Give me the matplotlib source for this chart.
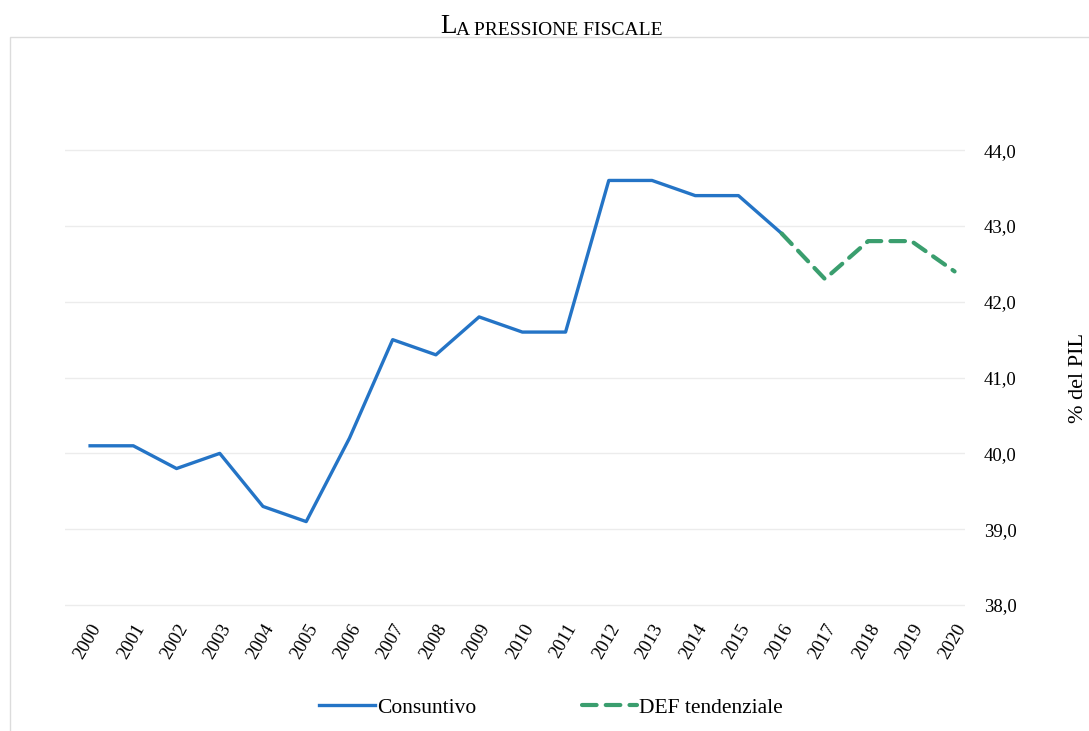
import matplotlib
matplotlib.use("Agg")
import matplotlib.pyplot as plt
from matplotlib.patches import Rectangle

plt.rcParams['font.family'] = ['Liberation Serif', 'DejaVu Serif']

# dati (% del PIL)
anni = [str(a) for a in range(2000, 2021)]
consuntivo = [40.1, 40.1, 39.8, 40.0, 39.3, 39.1, 40.2, 41.5, 41.3, 41.8,
              41.6, 41.6, 43.6, 43.6, 43.4, 43.4, 42.9]
def_tendenziale = [42.9, 42.3, 42.8, 42.8, 42.4]
y_ticks = [38.0, 39.0, 40.0, 41.0, 42.0, 43.0, 44.0]

blu = '#2474c6'
verde = '#3a9e6e'

fig = plt.figure(figsize=(10.89, 7.31), dpi=100)
ax = fig.add_axes([0.0597, 0.162, 0.826, 0.643])

x_cons = list(range(len(consuntivo)))
x_def = list(range(len(consuntivo) - 1, len(anni)))
ax.plot(x_cons, consuntivo, color=blu, lw=2.4, label='Consuntivo',
        solid_joinstyle='round')
ax.plot(x_def, def_tendenziale, color=verde, lw=3.0, ls=(0, (3.5, 2.2)),
        dash_capstyle='round', label='DEF tendenziale')

ax.set_xlim(-0.58, 20.23)
ax.set_ylim(37.9, 44.1)
ax.set_xticks(range(len(anni)))
ax.set_xticklabels(anni, rotation=60, ha='right', rotation_mode='anchor',
                   fontsize=13.5)
ax.set_yticks(y_ticks)
ax.set_yticklabels([f'{v:.1f}'.replace('.', ',') for v in y_ticks], fontsize=13.5)
ax.yaxis.tick_right()
ax.yaxis.set_label_position('right')
ax.tick_params(axis='y', length=0, pad=14)
ax.tick_params(axis='x', length=0, pad=6)
ax.set_ylabel('% del PIL', fontsize=16, labelpad=38)
ax.grid(axis='y', color='#ececec', lw=1)
for s in ax.spines.values():
    s.set_visible(False)

leg = ax.legend(loc='center', bbox_to_anchor=(0.506, 0.032), bbox_transform=fig.transFigure,
                ncol=2, frameon=False, fontsize=15.5, handlelength=2.6,
                handletextpad=0.08, columnspacing=4.9)

# titolo in maiuscoletto
t1 = fig.text(0.404, 0.946, 'L', fontsize=19.5, va='bottom', ha='left')
ax.annotate('A PRESSIONE FISCALE', xy=(1, 0), xycoords=t1, fontsize=14,
            va='bottom', ha='left', annotation_clip=False)

# cornice leggera
fig.patches.append(Rectangle((10 / 1089, -0.1), 1.2, 1.1 - 37 / 731,
                             transform=fig.transFigure, fill=False,
                             edgecolor='#dcdcdc', lw=1))

fig.savefig('out.png', dpi=100)
